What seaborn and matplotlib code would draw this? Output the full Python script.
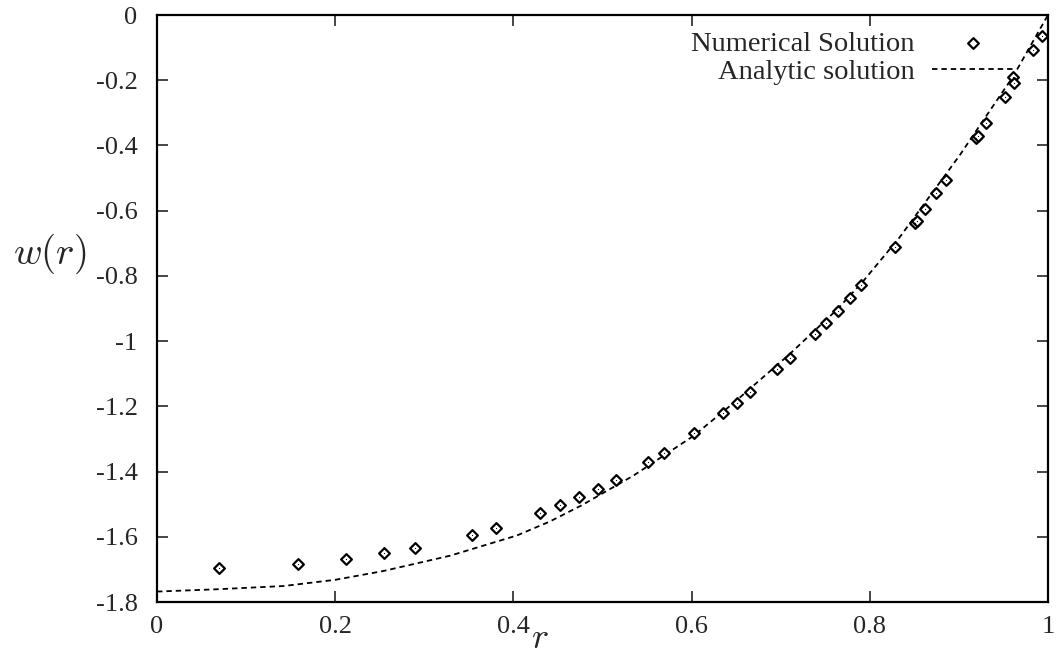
import seaborn as sns
import matplotlib.pyplot as plt
import pandas as pd

# values
num_r = [0.070, 0.158, 0.212, 0.255, 0.290, 0.353, 0.381, 0.430, 0.452, 0.474,
         0.495, 0.515, 0.551, 0.569, 0.603, 0.635, 0.651, 0.666, 0.696, 0.710,
         0.738, 0.751, 0.764, 0.778, 0.790, 0.828, 0.851, 0.853, 0.862, 0.874,
         0.886, 0.919, 0.921, 0.930, 0.952, 0.961, 0.962, 0.983, 0.993]
num_w = [-1.697, -1.683, -1.668, -1.651, -1.634, -1.595, -1.574, -1.528, -1.502, -1.477,
         -1.453, -1.426, -1.372, -1.344, -1.283, -1.219, -1.189, -1.155, -1.087, -1.051,
         -0.979, -0.945, -0.908, -0.867, -0.828, -0.710, -0.637, -0.632, -0.595, -0.547,
         -0.506, -0.376, -0.370, -0.330, -0.250, -0.191, -0.208, -0.107, -0.064]

ana_r = [0.0, 0.067, 0.142, 0.200, 0.254, 0.329, 0.404, 0.441, 0.477, 0.535,
         0.602, 0.647, 0.710, 0.763, 0.793, 0.834, 0.901, 0.919, 0.961, 1.0]
ana_w = [-1.768, -1.761, -1.751, -1.732, -1.705, -1.658, -1.596, -1.553, -1.503, -1.412,
         -1.291, -1.190, -1.040, -0.904, -0.815, -0.680, -0.430, -0.357, -0.188, 0.0]

x_ticks = [0, 0.2, 0.4, 0.6, 0.8, 1]
x_tick_labels = ['0', '0.2', '0.4', '0.6', '0.8', '1']
y_ticks = [0, -0.2, -0.4, -0.6, -0.8, -1, -1.2, -1.4, -1.6, -1.8]
y_tick_labels = ['0', '-0.2', '-0.4', '-0.6', '-0.8', '-1', '-1.2', '-1.4', '-1.6', '-1.8']

num_df = pd.DataFrame({'r': num_r, 'w': num_w})
ana_df = pd.DataFrame({'r': ana_r, 'w': ana_w})

sns.set_style('ticks')
plt.rcParams['font.family'] = ['Liberation Serif', 'DejaVu Serif']
plt.rcParams['mathtext.fontset'] = 'cm'
plt.rcParams['axes.unicode_minus'] = False

fig = plt.figure(figsize=(10.58, 6.58), dpi=100)
ax = fig.add_axes([0.1484, 0.0851, 0.8421, 0.8921])

sns.scatterplot(data=num_df, x='r', y='w', ax=ax, marker='D', s=30,
                facecolor='white', edgecolor='black', linewidth=1.6,
                label='Numerical Solution', zorder=3)
sns.scatterplot(data=num_df, x='r', y='w', ax=ax, marker='.', s=3,
                color='black', linewidth=0, zorder=4)
sns.lineplot(data=ana_df, x='r', y='w', ax=ax, color='black', linewidth=1.3,
             label='Analytic solution', zorder=2)
ax.lines[-1].set_linestyle((0, (3, 2.2)))

ax.set_xlim(0, 1)
ax.set_ylim(-1.8, 0)
ax.set_xticks(x_ticks)
ax.set_xticklabels(x_tick_labels)
ax.set_yticks(y_ticks)
ax.set_yticklabels(y_tick_labels)
ax.tick_params(direction='in', length=8, width=1.2, labelsize=19,
               top=True, right=True, pad=10)
ax.tick_params(axis='y', pad=14)
for sp in ax.spines.values():
    sp.set_linewidth(1.6)
    sp.set_color('black')

ax.set_xlabel('$r$', fontsize=26)
ax.set_ylabel('$w(r)$', fontsize=28, rotation=0)
ax.xaxis.set_label_coords(0.43, -0.036)
ax.yaxis.set_label_coords(-0.12, 0.555)

leg = ax.legend(loc='upper right', bbox_to_anchor=(0.98, 1.0), frameon=False,
                markerfirst=False, fontsize=20.5, handlelength=2.9,
                handletextpad=0.6, labelspacing=0.1, borderpad=0.05)

plt.savefig('out.png', dpi=100)
